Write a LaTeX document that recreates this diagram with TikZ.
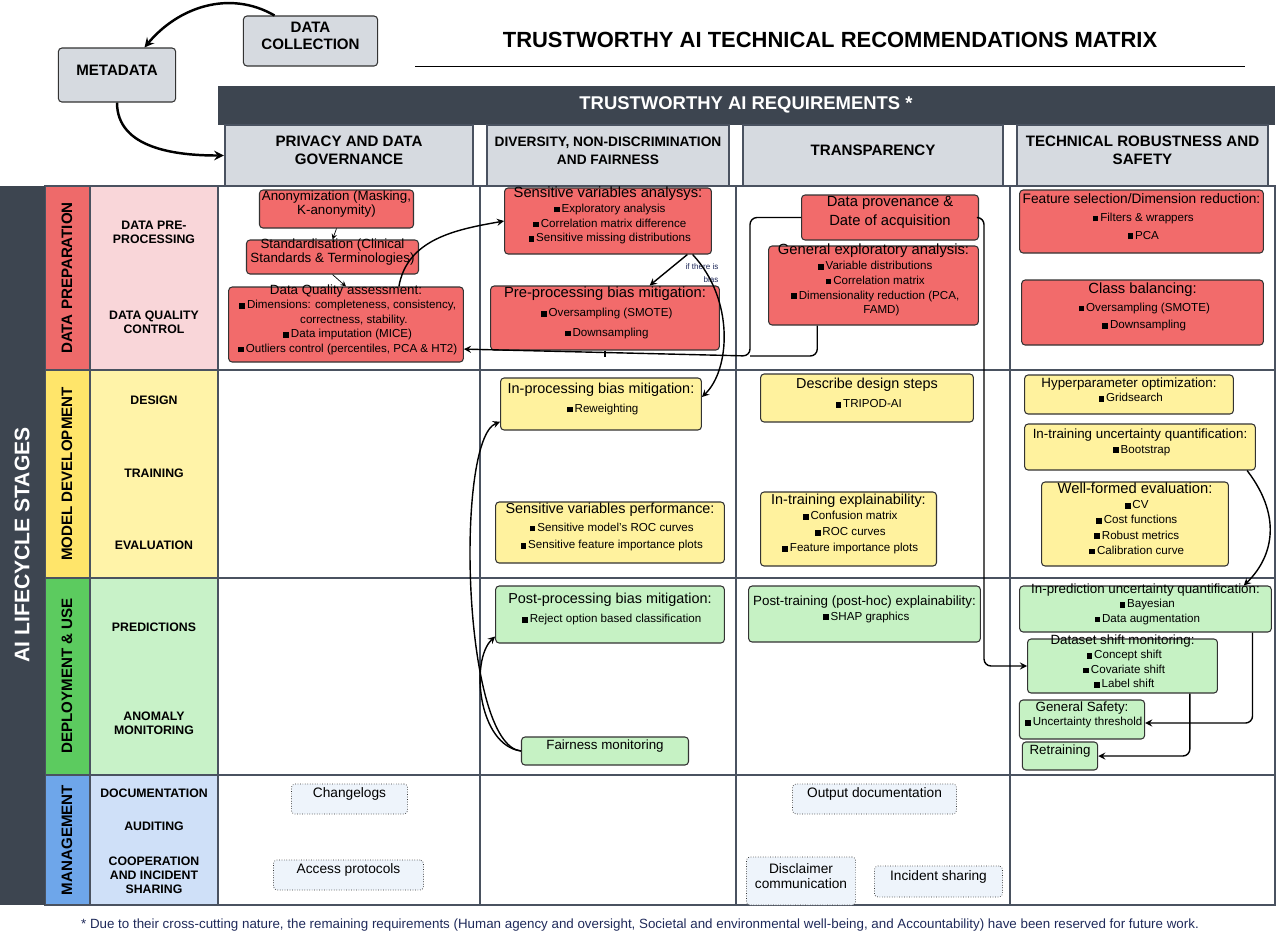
\documentclass[tikz,border=0pt]{standalone}
\usepackage{fontspec}
\setmainfont{Liberation Sans}
\usetikzlibrary{fit,positioning}
\definecolor{darkbar}{HTML}{3D4550}
\definecolor{gridc}{HTML}{4A5260}
\definecolor{headc}{HTML}{D6DAE0}
\definecolor{redbox}{HTML}{F26B6B}
\definecolor{yelbox}{HTML}{FFF29E}
\definecolor{grnbox}{HTML}{C6F2C4}
\definecolor{mgmbox}{HTML}{EEF4FB}
\definecolor{redstage}{HTML}{EE6A6A}
\definecolor{redsub}{HTML}{F9D6D9}
\definecolor{yelstage}{HTML}{FFE56A}
\definecolor{yelsub}{HTML}{FFF3A8}
\definecolor{grnstage}{HTML}{5CCB5F}
\definecolor{grnsub}{HTML}{C8F2C8}
\definecolor{bluestage}{HTML}{6EA6EA}
\definecolor{bluesub}{HTML}{CFE0F8}
\definecolor{notec}{HTML}{1F2A5A}
\newcommand{\itm}[1]{\\{\fontsize{6.6}{7.2}\selectfont\hspace*{2pt}\rule{3.2pt}{3.2pt}\,#1}}
\newcommand{\rbox}[7]{%
  \pgfmathsetmacro\tw{(#4-#2)*0.5669-7}%
  \node[#6, fit={(#2,#3) (#4,#5)}, inner sep=0pt, text width=\tw pt] (#1) {#7};}
\tikzset{
  box/.style={draw=black!80, rounded corners=2pt, line width=0.6pt,
    font=\fontsize{7.6}{8.2}\selectfont},
  red/.style={box, fill=redbox, align=left},
  yel/.style={box, fill=yelbox, align=left},
  grn/.style={box, fill=grnbox, align=left},
  ctr/.style={align=center},
  mgm/.style={draw=black!80, densely dotted, rounded corners=2pt, fill=mgmbox,
    align=center, font=\fontsize{7.8}{8.8}\selectfont},
  cell/.style={draw=gridc, line width=1pt},
  sub/.style={font=\bfseries\fontsize{7}{8}\selectfont, align=center},
  stage/.style={font=\bfseries\fontsize{8.6}{9}\selectfont, rotate=90},
  colhead/.style={font=\bfseries\fontsize{8.6}{10}\selectfont, align=center},
  flow/.style={thick,->,>=stealth},
}
\begin{document}
\begin{tikzpicture}[x=0.02cm,y=-0.02cm]
  \useasboundingbox (0,0) rectangle (1280,938);
  % top part
  \rbox{meta}{52}{48}{182}{102}{box,fill=headc,ctr,font=\bfseries\fontsize{8.6}{10}\selectfont}{METADATA}
  \rbox{coll}{237}{16}{384}{66}{box,fill=headc,ctr,font=\bfseries\fontsize{8.6}{10}\selectfont}{DATA\\COLLECTION}
  \node[font=\bfseries\fontsize{12.5}{14}\selectfont] (title) at (830,40) {TRUSTWORTHY AI TECHNICAL RECOMMENDATIONS MATRIX};
  \draw[thin] (415,66) -- (1245,66);
  % header rows
  \fill[darkbar] (218,86) rectangle (1275,125);
  \node[text=white, font=\bfseries\fontsize{10.5}{12}\selectfont] (req) at (746,105) {TRUSTWORTHY AI REQUIREMENTS *};
  \rbox{phead}{218}{125}{480}{186}{cell,fill=headc,colhead}{PRIVACY AND DATA\\GOVERNANCE}
  \rbox{dhead}{480}{125}{736}{186}{cell,fill=headc,colhead,font=\bfseries\fontsize{7.8}{10}\selectfont}{DIVERSITY, NON-DISCRIMINATION\\AND FAIRNESS}
  \rbox{thead}{736}{125}{1010}{186}{cell,fill=headc,colhead}{TRANSPARENCY}
  \rbox{rhead}{1010}{125}{1275}{186}{cell,fill=headc,colhead}{TECHNICAL ROBUSTNESS AND\\SAFETY}
  % grid
  \foreach \ya/\yb/\cs/\cl in {186/370/redstage/redsub,370/578/yelstage/yelsub,578/775/grnstage/grnsub,775/905/bluestage/bluesub}{
    \filldraw[fill=\cs, draw=gridc, line width=1pt] (45,\ya) rectangle (90,\yb);
    \filldraw[fill=\cl, draw=gridc, line width=1pt] (90,\ya) rectangle (218,\yb);
    \foreach \xa/\xb in {218/480,480/736,736/1010,1010/1275}
      \draw[cell] (\xa,\ya) rectangle (\xb,\yb);
  }
  \fill[darkbar] (0,186) rectangle (45,905);
  \node[rotate=90, text=white, font=\bfseries\fontsize{12}{14}\selectfont] (lcs) at (22,545) {AI LIFECYCLE STAGES};
  \node[stage] (sprep) at (67,278) {DATA PREPARATION};
  \node[stage] (sdev) at (67,474) {MODEL DEVELOPMENT};
  \node[stage] (sdep) at (67,676) {DEPLOYMENT \& USE};
  \node[stage] (smgm) at (67,840) {MANAGEMENT};
  \node[sub] (lpre) at (154,232) {DATA PRE-\\PROCESSING};
  \node[sub] (lqc) at (154,322) {DATA QUALITY\\CONTROL};
  \node[sub] (ldes) at (154,400) {DESIGN};
  \node[sub] (ltra) at (154,473) {TRAINING};
  \node[sub] (leva) at (154,545) {EVALUATION};
  \node[sub] (lpred) at (154,627) {PREDICTIONS};
  \node[sub] (lanom) at (154,723) {ANOMALY\\MONITORING};
  \node[sub] (ldoc) at (154,793) {DOCUMENTATION};
  \node[sub] (laud) at (154,826) {AUDITING};
  \node[sub] (lcoop) at (154,875) {COOPERATION\\AND INCIDENT\\SHARING};
  % data preparation
  \rbox{anon}{253}{190}{420}{228}{red,ctr}{Anonymization (Masking,\\K-anonymity)}
  \rbox{std}{240}{240}{425}{274}{red,ctr}{Standardisation (Clinical\\Standards \& Terminologies)}
  \rbox{dq}{222}{287}{470}{362}{red}{Data Quality assessment:\itm{Dimensions: completeness, consistency,}\\{\fontsize{6.6}{7.2}\selectfont\hspace*{9pt}correctness, stability.}\itm{Data imputation (MICE)}\itm{Outliers control (percentiles, PCA \& HT2)}}
  \rbox{sens}{498}{188}{718}{254}{red,font=\fontsize{8.4}{8.4}\selectfont}{Sensitive variables analysys:\itm{Exploratory analysis}\itm{Correlation matrix difference}\itm{Sensitive missing distributions}}
  \rbox{prep}{484}{286}{726}{350}{red,font=\fontsize{8.4}{11}\selectfont}{Pre-processing bias mitigation:\itm{Oversampling (SMOTE)}\itm{Downsampling}}
  \rbox{prov}{795}{195}{985}{240}{red,ctr,font=\fontsize{8.4}{11}\selectfont}{Data provenance \&\\Date of acquisition}
  \rbox{genexp}{762}{246}{985}{325}{red,font=\fontsize{8.4}{8.4}\selectfont}{General exploratory analysis:\itm{Variable distributions}\itm{Correlation matrix}\itm{Dimensionality reduction (PCA,}\\{\fontsize{6.6}{6.6}\selectfont\hspace*{9pt}FAMD)}}
  \rbox{feat}{1013}{190}{1270}{253}{red,font=\fontsize{7.8}{10}\selectfont}{Feature selection/Dimension reduction:\itm{Filters \& wrappers}\itm{PCA}}
  \rbox{bal}{1015}{280}{1270}{345}{red,font=\fontsize{8.4}{10}\selectfont}{Class balancing:\itm{Oversampling (SMOTE)}\itm{Downsampling}}
  % model development
  \rbox{inproc}{494}{378}{708}{430}{yel,font=\fontsize{8.2}{11}\selectfont}{In-processing bias mitigation:\itm{Reweighting}}
  \rbox{sperf}{489}{502}{731}{563}{yel,font=\fontsize{8.2}{10}\selectfont}{Sensitive variables performance:\itm{Sensitive model's ROC curves}\itm{Sensitive feature importance plots}}
  \rbox{desc}{754}{374}{980}{422}{yel,font=\fontsize{8.2}{11}\selectfont}{Describe design steps\itm{TRIPOD-AI}}
  \rbox{itexp}{754}{492}{943}{566}{yel,font=\fontsize{8.2}{9}\selectfont}{In-training explainability:\itm{Confusion matrix}\itm{ROC curves}\itm{Feature importance plots}}
  \rbox{hyper}{1018}{375}{1240}{414}{yel}{Hyperparameter optimization:\itm{Gridsearch}}
  \rbox{itunc}{1018}{424}{1262}{470}{yel}{In-training uncertainty quantification:\itm{Bootstrap}}
  \rbox{wfe}{1035}{482}{1235}{566}{yel,font=\fontsize{8.4}{8.6}\selectfont}{Well-formed evaluation:\itm{CV}\itm{Cost functions}\itm{Robust metrics}\itm{Calibration curve}}
  % deployment and use
  \rbox{postproc}{489}{586}{731}{643}{grn,font=\fontsize{8.2}{11}\selectfont}{Post-processing bias mitigation:\itm{Reject option based classification}}
  \rbox{posttr}{742}{586}{987}{642}{grn}{Post-training (post-hoc) explainability:\itm{SHAP graphics}}
  \rbox{inpred}{1013}{586}{1278}{632}{grn}{In-prediction uncertainty quantification:\itm{Bayesian}\itm{Data augmentation}}
  \rbox{shift}{1021}{639}{1224}{693}{grn}{Dataset shift monitoring:\itm{Concept shift}\itm{Covariate shift}\itm{Label shift}}
  \rbox{safety}{1013}{700}{1151}{739}{grn}{General Safety:\itm{Uncertainty threshold}}
  \rbox{retrain}{1016}{742}{1104}{770}{grn,ctr}{Retraining}
  \rbox{fair}{515}{737}{695}{765}{grn,ctr}{Fairness monitoring}
  % management
  \rbox{chlog}{285}{784}{414}{814}{mgm}{Changelogs}
  \rbox{access}{267}{860}{430}{890}{mgm}{Access protocols}
  \rbox{outdoc}{786}{784}{963}{814}{mgm}{Output documentation}
  \rbox{discl}{740}{857}{862}{905}{mgm}{Disclaimer\\communication}
  \rbox{incid}{868}{866}{1009}{897}{mgm}{Incident sharing}
  % connectors
  \draw[flow, line width=1.4pt] ([xshift=18pt]coll.north west) to[out=150,in=50] ([xshift=-18pt]meta.north east);
  \draw[flow, line width=1.4pt] (meta.south) to[out=-90,in=180] (phead.west);
  \draw[flow, thin] (anon.south) -- (std.north);
  \draw[flow, thin] (std.south) -- (dq.north);
  \draw[flow] ([xshift=-37pt]dq.north east) to[out=80,in=190] (sens.west);
  \draw[flow] ([xshift=-14pt]sens.south east) -- ([xshift=-40pt]prep.north east);
  \node[text=notec, align=right, font=\fontsize{4.6}{7}\selectfont] (bias) at (702,273) {if there is\\bias};
  \draw[flow] ([xshift=-11pt]sens.south east) .. controls (735,300) and (730,370) .. ([yshift=4pt]inproc.east);
  \coordinate (jn) at (750,356);
  \draw[flow, rounded corners=4pt] (prov.west) -| (jn) -- ([yshift=-14pt]dq.east);
  \draw[rounded corners=4pt, thick] ([xshift=28pt]genexp.south west) |- (jn);
  \draw[thick] (prep.south) -- ++(0,6);
  \draw[flow, rounded corners=4pt] (prov.east) -- ++(5,0) |- (shift.west);
  \draw[flow] ([xshift=-5pt]itunc.south east) .. controls (1285,520) and (1270,560) .. ([xshift=-16pt]inpred.north east);
  \draw[flow, rounded corners=4pt] ([xshift=-11pt]inpred.south east) |- ([yshift=-2pt]safety.east);
  \draw[flow, rounded corners=4pt] ([xshift=-16pt]shift.south east) |- (retrain.east);
  \draw[flow] (fair.west) .. controls (462,745) and (455,440) .. ([yshift=5pt]inproc.south west);
  \draw[flow] (fair.west) .. controls (478,745) and (470,660) .. ([yshift=4pt]postproc.south west);
  % footnote
  \node[text=notec, font=\fontsize{7.6}{9}\selectfont] (note) at (640,925) {* Due to their cross-cutting nature, the remaining requirements (Human agency and oversight, Societal and environmental well-being, and Accountability) have been reserved for future work.};
\end{tikzpicture}
\end{document}
